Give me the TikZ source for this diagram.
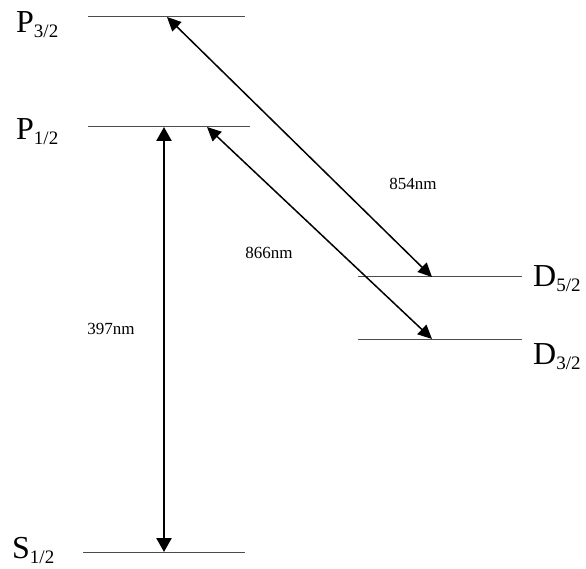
\documentclass[tikz,border=0pt]{standalone}
\usepackage{fontspec}
\setmainfont{Liberation Serif}
\usetikzlibrary{arrows.meta}
\newcommand{\lvlname}[2]{#1\raisebox{-5pt}{\fontsize{19}{19}\selectfont #2}}
\begin{document}
\begin{tikzpicture}[x=1pt,y=-1pt,
  level/.style={draw=black!70, line width=1pt},
  trans/.style={line width=1.5pt, {Triangle[length=14pt,width=13pt]}-{Triangle[length=14pt,width=13pt]}},
  pump/.style={line width=2.5pt, {Triangle[length=14pt,width=15pt]}-{Triangle[length=14pt,width=15pt]}},
  lbl/.style={font=\fontsize{32}{32}\selectfont, anchor=base west, inner sep=0pt},
  wl/.style={font=\fontsize{17}{17}\selectfont, anchor=base, inner sep=0pt}]
\useasboundingbox (0,0) rectangle (586,569);
% levels
\coordinate (p3l) at (88,17);  \coordinate (p3r) at (245,17);
\coordinate (p1l) at (88,127); \coordinate (p1r) at (250,127);
\coordinate (s1l) at (83,552); \coordinate (s1r) at (245,552);
\coordinate (d5l) at (358,277); \coordinate (d5r) at (522,277);
\coordinate (d3l) at (358,339); \coordinate (d3r) at (522,339);
\draw[level] (p3l) -- (p3r);
\draw[level] (p1l) -- (p1r);
\draw[level] (s1l) -- (s1r);
\draw[level] (d5l) -- (d5r);
\draw[level] (d3l) -- (d3r);
% labels
\node[lbl] (lp3) at (16,33) {\lvlname{P}{3/2}};
\node[lbl] (lp1) at (16,140) {\lvlname{P}{1/2}};
\node[lbl] (ls1) at (12,558) {\lvlname{S}{1/2}};
\node[lbl] (ld5) at (533,287) {\lvlname{D}{5/2}};
\node[lbl] (ld3) at (533,364) {\lvlname{D}{3/2}};
% transition endpoints
\coordinate (a397t) at (164,127);
\coordinate (a397b) at (164,552);
\coordinate (a854t) at (167,17);
\coordinate (a854b) at (432,277);
\coordinate (a866t) at (207,127);
\coordinate (a866b) at (432,339);
\draw[pump] (a397t) -- (a397b);
\draw[trans] (a854t) -- (a854b);
\draw[trans] (a866t) -- (a866b);
\node[wl] (w854) at (413,190) {854nm};
\node[wl] (w866) at (269,259) {866nm};
\node[wl] (w397) at (111,334) {397nm};
\end{tikzpicture}
\end{document}
